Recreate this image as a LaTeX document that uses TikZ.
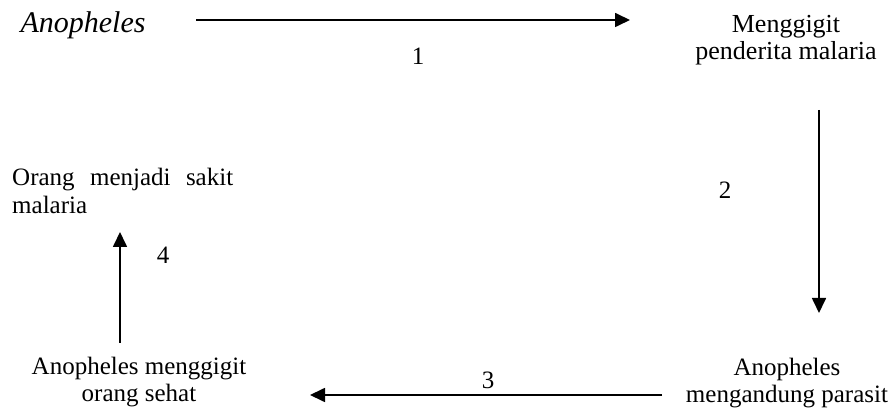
\documentclass[tikz,border=0pt]{standalone}
\usepackage{fontspec}
\setmainfont{Liberation Serif}
\usetikzlibrary{arrows.meta, positioning}

\begin{document}
\begin{tikzpicture}[x=1pt, y=-1pt,
  stagebox/.style={align=center, inner sep=0pt, font=\fontsize{25}{27}\selectfont},
  numlabel/.style={inner sep=0pt, font=\fontsize{25}{27}\selectfont},
  arr/.style={-{Triangle[length=15pt, width=14pt]}, line width=1.7pt}
]
\useasboundingbox (0,0) rectangle (891,411);

% Stages of the cycle
\node[stagebox, font=\fontsize{30}{32}\selectfont\itshape] (nyamuk) at (83,25) {Anopheles};
\node[stagebox, font=\fontsize{26}{27}\selectfont] (gigit) at (786,40) {Menggigit\\penderita malaria};
\node[stagebox] (parasit) at (787,383) {Anopheles\\mengandung parasit};
\node[stagebox] (sehat)  at (139,382) {Anopheles menggigit\\orang sehat};
\node[stagebox, align=justify, text width=221pt, anchor=west,
      font=\fontsize{25}{28}\selectfont] (sakit) at (12,191) {\noindent Orang menjadi sakit malaria};

% Arrow ends
\coordinate (a1s) at (196,20);
\coordinate (a1e) at (630,20);
\coordinate (a2s) at (819,110);
\coordinate (a2e) at (819,313);
\coordinate (a3s) at (662,395);
\coordinate (a3e) at (310,395);
\coordinate (a4s) at (120,343);
\coordinate (a4e) at (120,232);

% Step numbers
\node[numlabel] (n1) at (418,56)  {1};
\node[numlabel] (n2) at (725,190) {2};
\node[numlabel] (n3) at (488,380) {3};
\node[numlabel] (n4) at (163,255) {4};

% Cycle arrows
\draw[arr] (a1s) -- (a1e);
\draw[arr] (a2s) -- (a2e);
\draw[arr] (a3s) -- (a3e);
\draw[arr] (a4s) -- (a4e);

\end{tikzpicture}
\end{document}
